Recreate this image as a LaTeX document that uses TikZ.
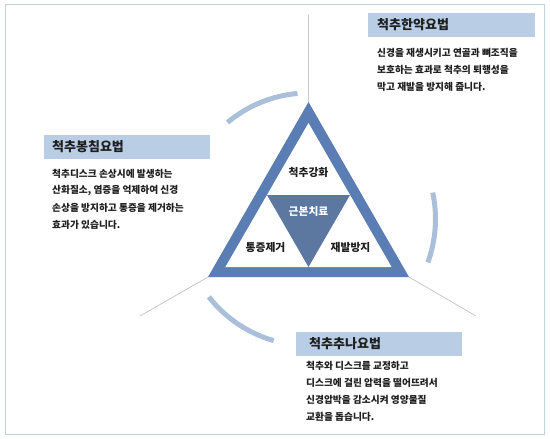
\documentclass[tikz,border=0pt]{standalone}
\usepackage{fontspec}
\setmainfont{Noto Sans CJK KR}
\definecolor{frame}{HTML}{C3D3DB}
\definecolor{band}{HTML}{5A7DB4}
\definecolor{core}{HTML}{5C77A0}
\definecolor{arcc}{HTML}{AAC0DA}
\definecolor{head}{HTML}{B9CDE5}
\definecolor{ink}{HTML}{1E1E1E}
\definecolor{spoke}{HTML}{C8C8C8}
\tikzset{
  title/.style={anchor=west, inner sep=0pt, font=\fontsize{13}{15}\selectfont\bfseries, text=ink},
  body/.style={anchor=west, inner sep=0pt, font=\fontsize{9.7}{12}\selectfont\bfseries, text=ink},
  tri/.style={inner sep=0pt, font=\fontsize{10.8}{13}\selectfont\bfseries, text=ink},
  headbox/.style={fill=head, draw=none},
  ring/.style={draw=arcc, line width=5pt},
  spokeline/.style={draw=spoke, line width=0.8pt}
}
\begin{document}
\begin{tikzpicture}[x=1pt,y=-1pt]
\useasboundingbox (0,0) rectangle (550,439);
\fill[white] (0,0) rectangle (550,439);
\draw[frame, line width=1pt] (5,4.5) rectangle (544.5,434);
% triangle corners
\coordinate (A) at (308.5,102);
\coordinate (B) at (208,277);
\coordinate (C) at (409,277);
\coordinate (O) at (308.5,219);
% spokes
\coordinate (Atop) at (308.5,15);
\coordinate (Bend) at (140,316);
\coordinate (Cend) at (476,316);
\draw[spokeline] (Atop) -- (A);
\draw[spokeline] (B) -- (Bend);
\draw[spokeline] (C) -- (Cend);
% arcs
\draw[ring] (O) ++(-95:126) arc[start angle=-95, end angle=-130, radius=126];
\draw[ring] (O) ++(20:127) arc[start angle=20, end angle=-12, radius=127];
\draw[ring] (O) ++(142:126.5) arc[start angle=142, end angle=106, radius=126.5];
% triangle
\fill[band] (A) -- (B) -- (C) -- cycle;
\coordinate (iA) at (308.5,123);
\coordinate (iB) at (225.4,267);
\coordinate (iC) at (391.6,267);
\fill[white] (iA) -- (iB) -- (iC) -- cycle;
\coordinate (mL) at (267,195);
\coordinate (mR) at (350,195);
\coordinate (mB) at (308.5,267);
\fill[core] (mL) -- (mR) -- (mB) -- cycle;
\node[tri] (t1) at (308.5,172) {척추강화};
\node[tri, text=white] (t2) at (308.5,211) {근본치료};
\node[tri] (t3) at (265.5,247) {통증제거};
\node[tri] (t4) at (350.5,247) {재발방지};
% header boxes
\fill[headbox] (368,13) rectangle (535,37);
\fill[headbox] (44,135) rectangle (210,159);
\fill[headbox] (296,332) rectangle (462,356);
\node[title] (h1) at (377,25) {척추한약요법};
\node[title] (h2) at (52,147) {척추봉침요법};
\node[title] (h3) at (309,344) {척추추나요법};
% bodies
\node[body] (a1) at (377,53) {신경을 재생시키고 연골과 뼈조직을};
\node[body] (a2) at (377,70) {보호하는 효과로 척추의 퇴행성을};
\node[body] (a3) at (377,87) {막고 재발을 방지해 줍니다.};
\node[body] (b1) at (52,174) {척추디스크 손상시에 발생하는};
\node[body] (b2) at (52,191) {산화질소, 염증을 억제하여 신경};
\node[body] (b3) at (52,208) {손상을 방지하고 통증을 제거하는};
\node[body] (b4) at (52,225) {효과가 있습니다.};
\node[body] (c1) at (306,366) {척추와 디스크를 교정하고};
\node[body] (c2) at (306,383) {디스크에 걸린 압력을 떨어뜨려서};
\node[body] (c3) at (306,400) {신경압박을 감소시켜 영양물질};
\node[body] (c4) at (306,417) {교환을 돕습니다.};
\end{tikzpicture}
\end{document}
